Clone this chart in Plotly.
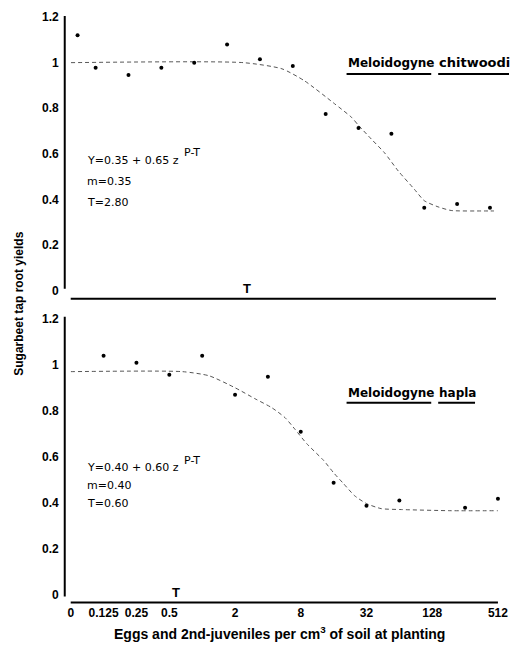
import plotly.graph_objects as go

W, H = 519, 649
# corrections for the small scaling observed in the photographed page
SX = 1 / 0.979
SY, OY = 0.993, 4.0

# ---------------- data (x given as log2 of density; -4 stands for density 0) -------------
tick_pos = [-4, -3, -2, -1, 1, 3, 5, 7, 9]
tick_text = ["0", "0.125", "0.25", "0.5", "2", "8", "32", "128", "512"]

# Meloidogyne chitwoodi (top panel)
top_pts_x = [-3.55, -3, -2, -1, 0, 1, 2, 3, 4, 5, 6, 7, 8, 9]
top_pts_y = [1.12, 0.978, 0.946, 0.978, 1.0, 1.08, 1.015, 0.985, 0.775, 0.714, 0.688, 0.364, 0.381, 0.364]
top_fit_x = [-3.75, 1.5, 2.67, 3.36, 4.27, 4.79, 5.0, 5.39, 5.79, 6.21, 6.7, 7.0, 7.42, 7.82, 8.82, 9.12]
top_fit_y = [1.0, 1.0, 0.973, 0.92, 0.82, 0.76, 0.725, 0.665, 0.605, 0.525, 0.445, 0.395, 0.368, 0.352, 0.35, 0.35]

# Meloidogyne hapla (bottom panel)
bot_pts_x = [-3, -2, -1, 0, 1, 2, 3, 4, 5, 6, 8, 9]
bot_pts_y = [1.039, 1.009, 0.957, 1.039, 0.870, 0.948, 0.709, 0.487, 0.387, 0.409, 0.378, 0.417]
bot_fit_x = [-4.0, -0.6, 0.21, 1.0, 1.61, 2.12, 2.52, 2.82, 3.18, 3.70, 4.0, 4.30, 4.64, 5.0, 5.45, 6.06, 7.58, 9.0]
bot_fit_y = [0.97, 0.97, 0.952, 0.90, 0.852, 0.813, 0.77, 0.72, 0.657, 0.583, 0.53, 0.483, 0.43, 0.396, 0.374, 0.370, 0.365, 0.365]

y_ticks = [0, 0.2, 0.4, 0.6, 0.8, 1.0, 1.2]
y_tick_text = ["0", "0.2", "0.4", "0.6", "0.8", "1", "1.2"]
# ------------------------------------------------------------------------------------------


def px(x):
    return min(1.0, x * SX / W)


def py(y):
    return max(0.0, min(1.0, 1 - ((y - OY) / SY) / H))


FONT = "Liberation Sans, Arial, sans-serif"
EQ_FONT = "DejaVu Sans"
dot = dict(color="black", size=4)
fit_line = dict(color="#555555", width=1, dash="4px,3px", shape="spline", smoothing=0.6)

fig = go.Figure()
fig.add_trace(go.Scatter(x=top_fit_x, y=top_fit_y, mode="lines", line=fit_line,
                         xaxis="x", yaxis="y", hoverinfo="skip"))
fig.add_trace(go.Scatter(x=top_pts_x, y=top_pts_y, mode="markers", marker=dot,
                         xaxis="x", yaxis="y", cliponaxis=False))
fig.add_trace(go.Scatter(x=bot_fit_x, y=bot_fit_y, mode="lines", line=fit_line,
                         xaxis="x2", yaxis="y2", hoverinfo="skip"))
fig.add_trace(go.Scatter(x=bot_pts_x, y=bot_pts_y, mode="markers", marker=dot,
                         xaxis="x2", yaxis="y2", cliponaxis=False))

yaxis_common = dict(tickvals=y_ticks, ticktext=y_tick_text, showgrid=False, zeroline=False,
                    showline=False, ticks="",
                    tickfont=dict(family=FONT, size=12, color="black", weight="bold"),
                    anchor="free", position=px(56))
xaxis_common = dict(showgrid=False, zeroline=False, showline=False, ticks="")

fig.update_layout(
    width=W, height=H, margin=dict(l=0, r=0, t=0, b=0),
    paper_bgcolor="white", plot_bgcolor="white", showlegend=False,
    xaxis=dict(domain=[px(68), px(495)], range=[-3.758, 9.182], anchor="y",
               showticklabels=False, **xaxis_common),
    yaxis=dict(domain=[py(298), py(13)], range=[-0.035, 1.2133], **yaxis_common),
    xaxis2=dict(domain=[px(68), px(497)], range=[-4, 9], anchor="y2",
                tickvals=tick_pos, ticktext=tick_text,
                tickfont=dict(family=FONT, size=12, color="black", weight="bold"),
                **xaxis_common),
    yaxis2=dict(domain=[py(603), py(316)], range=[-0.039, 1.2087], **yaxis_common),
)

ann = []
# axis titles
ann.append(dict(text="Sugarbeet tap root yields", x=px(16), y=py(303), xref="paper", yref="paper",
                xanchor="center", yanchor="middle", textangle=-90, showarrow=False,
                font=dict(family=FONT, size=12, color="black", weight="bold")))
ann.append(dict(text="Eggs and 2nd-juveniles per cm<sup>3</sup> of soil at planting",
                x=px(278), y=py(632), xref="paper", yref="paper", xanchor="center",
                yanchor="middle", showarrow=False,
                font=dict(family=FONT, size=14, color="black", weight="bold")))

# species labels (each word sits on its own underline)
for word, x0, yy, size in [("Meloidogyne", 344, 62, 12), ("chitwoodi", 436, 62, 13),
                           ("Meloidogyne", 344, 392, 12), ("hapla", 436, 392, 12)]:
    ann.append(dict(text=word, x=px(x0), y=py(yy), xref="paper", yref="paper",
                    xanchor="left", yanchor="middle", showarrow=False,
                    font=dict(family=EQ_FONT, size=size, color="black", weight="bold")))

eq_font = dict(family=EQ_FONT, size=11, color="black")
for lines, ys, sup_y in [
    (["Y=0.35 + 0.65 z", "m=0.35", "T=2.80"], [160, 181, 202], 152),
    (["Y=0.40 + 0.60 z", "m=0.40", "T=0.60"], [467, 485, 503], 460),
]:
    for t, yy in zip(lines, ys):
        ann.append(dict(text=t, x=px(82), y=py(yy), xref="paper", yref="paper",
                        xanchor="left", yanchor="middle", showarrow=False, font=eq_font))
    ann.append(dict(text="P-T", x=px(180), y=py(sup_y), xref="paper", yref="paper",
                    xanchor="left", yanchor="middle", showarrow=False, font=eq_font))

# T markers at the tolerance limits
for (tx, ty) in [(245, 288), (174, 592)]:
    ann.append(dict(text="T", x=px(tx), y=py(ty), xref="paper", yref="paper", showarrow=False,
                    xanchor="center", yanchor="middle",
                    font=dict(family=FONT, size=13, color="black", weight="bold")))
fig.update_layout(annotations=ann)

shapes = []
# axis lines and name underlines, drawn as thin filled bars (x0, y0, x1, y1 in pixels)
bars = [(61, 15, 63, 288), (68, 297, 495, 299),
        (61, 316, 63, 596), (68, 601, 497, 603),
        (345, 72, 430, 74), (437, 72, 510, 74),
        (345, 401, 430, 403), (437, 401, 474, 403)]
for (x0, y0, x1, y1) in bars:
    shapes.append(dict(type="rect", xref="paper", yref="paper", x0=px(x0), x1=px(x1),
                       y0=py(y1), y1=py(y0), fillcolor="black", line=dict(width=0),
                       layer="above"))
fig.update_layout(shapes=shapes)

fig.write_html(
    "out.html",
    config={"displayModeBar": False},
    post_script="document.body.style.margin='0';document.body.style.overflow='hidden';",
)
